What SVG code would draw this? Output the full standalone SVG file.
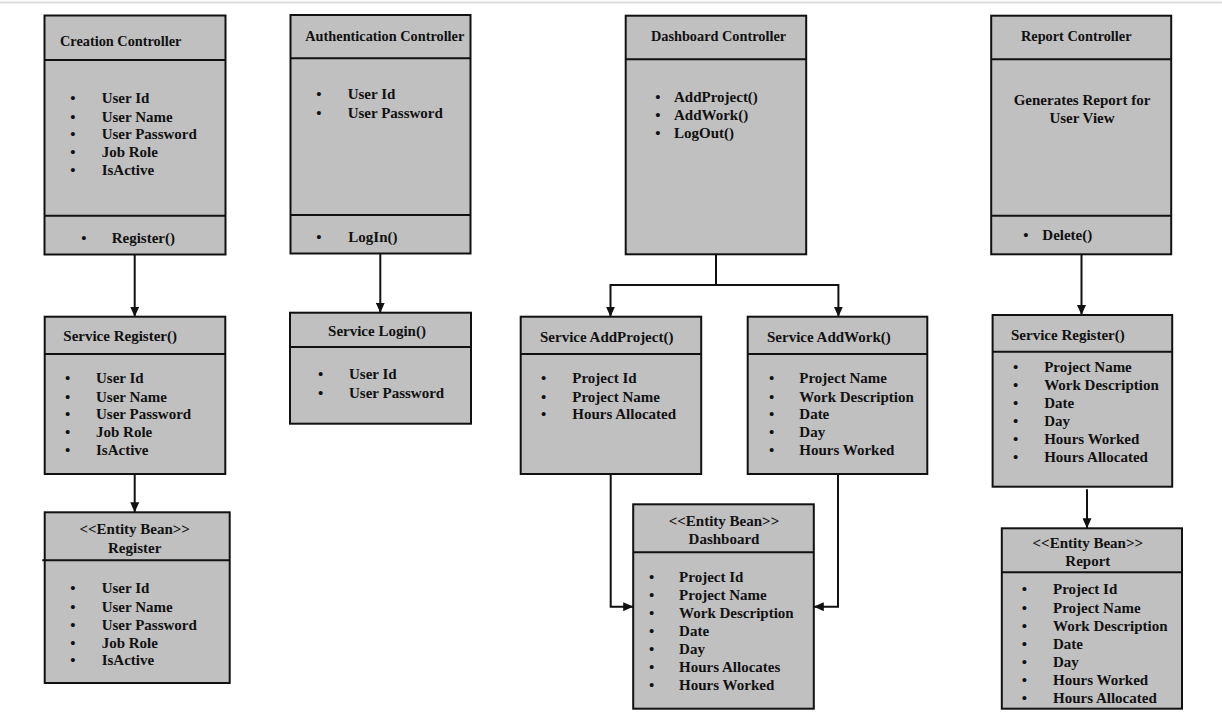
<svg xmlns="http://www.w3.org/2000/svg" width="1222" height="725" viewBox="0 0 1222 725">
<style>
.box{fill:#c0c0c0;stroke:#111;stroke-width:2}
.div{stroke:#111;stroke-width:2;fill:none}
.t{font-family:"Liberation Serif","Times New Roman",serif;font-weight:bold;font-size:15px;fill:#111}
.h{font-size:14.3px}
.m{text-anchor:middle}
.con{stroke:#111;stroke-width:2;fill:none}
</style>
<defs>
<marker id="arr" markerUnits="userSpaceOnUse" markerWidth="10" markerHeight="9" refX="10" refY="4.5" orient="auto">
<path d="M0,0 L10,4.5 L0,9 z" fill="#111"/>
</marker>
</defs>
<rect x="0" y="0" width="1222" height="725" fill="#fff"/>
<line x1="0" y1="2.5" x2="1222" y2="2.5" stroke="#dcdcdc" stroke-width="2"/>

<g id="connectors">
<path class="con" d="M134.7 254.3 V316.7" marker-end="url(#arr)"/>
<path class="con" d="M380.3 253.3 V312.7" marker-end="url(#arr)"/>
<path class="con" d="M716 254.3 V285 H610.5 V316.7" marker-end="url(#arr)"/>
<path class="con" d="M716 285 H838.4 V316.7" marker-end="url(#arr)"/>
<path class="con" d="M1081.5 254.3 V315" marker-end="url(#arr)"/>
<path class="con" d="M134.7 474 V512.3" marker-end="url(#arr)"/>
<path class="con" d="M610.7 474 V606.7 H633.2" marker-end="url(#arr)"/>
<path class="con" d="M838 474 V606.7 H813.8" marker-end="url(#arr)"/>
<path class="con" d="M1087 489.3 V528.3" marker-end="url(#arr)"/>
</g>

<g id="creation-controller">
<rect class="box" x="44.5" y="15.5" width="181" height="239"/>
<line class="div" x1="44.5" y1="60" x2="225.5" y2="60"/>
<line class="div" x1="44.5" y1="215.7" x2="225.5" y2="215.7"/>
<text class="t h" x="60" y="46.4">Creation Controller</text>
<g class="t">
<text class="m" x="73" y="102.7">•</text><text x="101.7" y="102.7">User Id</text>
<text class="m" x="73" y="121.7">•</text><text x="101.7" y="121.7">User Name</text>
<text class="m" x="73" y="139.3">•</text><text x="101.7" y="139.3">User Password</text>
<text class="m" x="73" y="157.3">•</text><text x="101.7" y="157.3">Job Role</text>
<text class="m" x="73" y="175">•</text><text x="101.7" y="175">IsActive</text>
<text class="m" x="84" y="242.7">•</text><text x="111.7" y="242.7">Register()</text>
</g>
</g>

<g id="authentication-controller">
<rect class="box" x="290.5" y="15" width="180" height="238.5"/>
<line class="div" x1="290.5" y1="58.3" x2="470.5" y2="58.3"/>
<line class="div" x1="290.5" y1="215" x2="470.5" y2="215"/>
<text class="t h" x="305.3" y="40.7">Authentication Controller</text>
<g class="t">
<text class="m" x="319" y="99.3">•</text><text x="347.7" y="99.3">User Id</text>
<text class="m" x="319" y="117.7">•</text><text x="347.7" y="117.7">User Password</text>
<text class="m" x="319" y="241.7">•</text><text x="348.3" y="241.7">LogIn()</text>
</g>
</g>

<g id="dashboard-controller">
<rect class="box" x="625.7" y="15.7" width="180.5" height="238.6"/>
<line class="div" x1="625.7" y1="59.3" x2="806.2" y2="59.3"/>
<text class="t h m" x="718.5" y="40.7">Dashboard Controller</text>
<g class="t">
<text class="m" x="657.9" y="101.7">•</text><text x="674" y="101.7">AddProject()</text>
<text class="m" x="657.9" y="120">•</text><text x="674" y="120">AddWork()</text>
<text class="m" x="657.9" y="138.3">•</text><text x="674" y="138.3">LogOut()</text>
</g>
</g>

<g id="report-controller">
<rect class="box" x="991.2" y="15.7" width="180" height="238.6"/>
<line class="div" x1="991.2" y1="59.3" x2="1171.2" y2="59.3"/>
<line class="div" x1="991.2" y1="215.7" x2="1171.2" y2="215.7"/>
<text class="t h" x="1021" y="40.7">Report Controller</text>
<g class="t">
<text class="m" x="1082" y="105">Generates Report for</text>
<text class="m" x="1082" y="123.3">User View</text>
<text class="m" x="1025.8" y="240.3">•</text><text x="1042.3" y="240.3">Delete()</text>
</g>
</g>

<g id="service-register-left">
<rect class="box" x="44.7" y="316.7" width="180.6" height="157.3"/>
<line class="div" x1="44.7" y1="354" x2="225.3" y2="354"/>
<text class="t" x="63.3" y="341">Service Register()</text>
<g class="t">
<text class="m" x="67.7" y="382.7">•</text><text x="96" y="382.7">User Id</text>
<text class="m" x="67.7" y="401.7">•</text><text x="96" y="401.7">User Name</text>
<text class="m" x="67.7" y="419">•</text><text x="96" y="419">User Password</text>
<text class="m" x="67.7" y="437">•</text><text x="96" y="437">Job Role</text>
<text class="m" x="67.7" y="455">•</text><text x="96" y="455">IsActive</text>
</g>
</g>

<g id="service-login">
<rect class="box" x="290" y="312.7" width="181" height="111"/>
<line class="div" x1="290" y1="347" x2="471" y2="347"/>
<text class="t m" x="377" y="336">Service Login()</text>
<g class="t">
<text class="m" x="320.7" y="379">•</text><text x="349" y="379">User Id</text>
<text class="m" x="320.7" y="397.7">•</text><text x="349" y="397.7">User Password</text>
</g>
</g>

<g id="service-addproject">
<rect class="box" x="520.7" y="316.7" width="180.5" height="157.3"/>
<line class="div" x1="520.7" y1="354" x2="701.2" y2="354"/>
<text class="t" x="540" y="341.7">Service AddProject()</text>
<g class="t">
<text class="m" x="543.7" y="382.7">•</text><text x="572.3" y="382.7">Project Id</text>
<text class="m" x="543.7" y="401.7">•</text><text x="572.3" y="401.7">Project Name</text>
<text class="m" x="543.7" y="419.3">•</text><text x="572.3" y="419.3">Hours Allocated</text>
</g>
</g>

<g id="service-addwork">
<rect class="box" x="747.7" y="316.7" width="179.6" height="157.3"/>
<line class="div" x1="747.7" y1="354" x2="927.3" y2="354"/>
<text class="t" x="767" y="341.7">Service AddWork()</text>
<g class="t">
<text class="m" x="771.6" y="383">•</text><text x="799.3" y="383">Project Name</text>
<text class="m" x="771.6" y="401.7">•</text><text x="799.3" y="401.7">Work Description</text>
<text class="m" x="771.6" y="419.3">•</text><text x="799.3" y="419.3">Date</text>
<text class="m" x="771.6" y="437.3">•</text><text x="799.3" y="437.3">Day</text>
<text class="m" x="771.6" y="455">•</text><text x="799.3" y="455">Hours Worked</text>
</g>
</g>

<g id="service-register-right">
<rect class="box" x="992.6" y="315" width="179.6" height="171.7"/>
<line class="div" x1="992.6" y1="351.7" x2="1172.2" y2="351.7"/>
<text class="t" x="1011" y="340">Service Register()</text>
<g class="t">
<text class="m" x="1015.7" y="371.7">•</text><text x="1044.2" y="371.7">Project Name</text>
<text class="m" x="1015.7" y="390.3">•</text><text x="1044.2" y="390.3">Work Description</text>
<text class="m" x="1015.7" y="408.3">•</text><text x="1044.2" y="408.3">Date</text>
<text class="m" x="1015.7" y="426.3">•</text><text x="1044.2" y="426.3">Day</text>
<text class="m" x="1015.7" y="443.7">•</text><text x="1044.2" y="443.7">Hours Worked</text>
<text class="m" x="1015.7" y="461.7">•</text><text x="1044.2" y="461.7">Hours Allocated</text>
</g>
</g>

<g id="entity-register">
<rect class="box" x="44.7" y="512.3" width="185" height="170.7"/>
<line class="div" x1="42.3" y1="560.3" x2="229.7" y2="560.3"/>
<text class="t m" x="134.7" y="534">&lt;&lt;Entity Bean&gt;&gt;</text>
<text class="t m" x="134.7" y="552.7">Register</text>
<g class="t">
<text class="m" x="73" y="593.3">•</text><text x="101.7" y="593.3">User Id</text>
<text class="m" x="73" y="612.3">•</text><text x="101.7" y="612.3">User Name</text>
<text class="m" x="73" y="630">•</text><text x="101.7" y="630">User Password</text>
<text class="m" x="73" y="647.7">•</text><text x="101.7" y="647.7">Job Role</text>
<text class="m" x="73" y="665.3">•</text><text x="101.7" y="665.3">IsActive</text>
</g>
</g>

<g id="entity-dashboard">
<rect class="box" x="633.2" y="504.3" width="180.6" height="204.4"/>
<line class="div" x1="633.2" y1="552.3" x2="813.8" y2="552.3"/>
<text class="t m" x="724" y="526">&lt;&lt;Entity Bean&gt;&gt;</text>
<text class="t m" x="724" y="544.3">Dashboard</text>
<g class="t">
<text class="m" x="651.7" y="581.7">•</text><text x="679.1" y="581.7">Project Id</text>
<text class="m" x="651.7" y="600">•</text><text x="679.1" y="600">Project Name</text>
<text class="m" x="651.7" y="618.3">•</text><text x="679.1" y="618.3">Work Description</text>
<text class="m" x="651.7" y="636">•</text><text x="679.1" y="636">Date</text>
<text class="m" x="651.7" y="654">•</text><text x="679.1" y="654">Day</text>
<text class="m" x="651.7" y="672.3">•</text><text x="679.1" y="672.3">Hours Allocates</text>
<text class="m" x="651.7" y="690">•</text><text x="679.1" y="690">Hours Worked</text>
</g>
</g>

<g id="entity-report">
<rect class="box" x="1001.8" y="528.3" width="180.2" height="180.4"/>
<line class="div" x1="1001.8" y1="572.3" x2="1182" y2="572.3"/>
<text class="t m" x="1087.8" y="547.7">&lt;&lt;Entity Bean&gt;&gt;</text>
<text class="t m" x="1087.8" y="566">Report</text>
<g class="t">
<text class="m" x="1024.3" y="594.3">•</text><text x="1053" y="594.3">Project Id</text>
<text class="m" x="1024.3" y="612.7">•</text><text x="1053" y="612.7">Project Name</text>
<text class="m" x="1024.3" y="630.7">•</text><text x="1053" y="630.7">Work Description</text>
<text class="m" x="1024.3" y="648.7">•</text><text x="1053" y="648.7">Date</text>
<text class="m" x="1024.3" y="666.7">•</text><text x="1053" y="666.7">Day</text>
<text class="m" x="1024.3" y="685">•</text><text x="1053" y="685">Hours Worked</text>
<text class="m" x="1024.3" y="703">•</text><text x="1053" y="703">Hours Allocated</text>
</g>
</g>
</svg>
